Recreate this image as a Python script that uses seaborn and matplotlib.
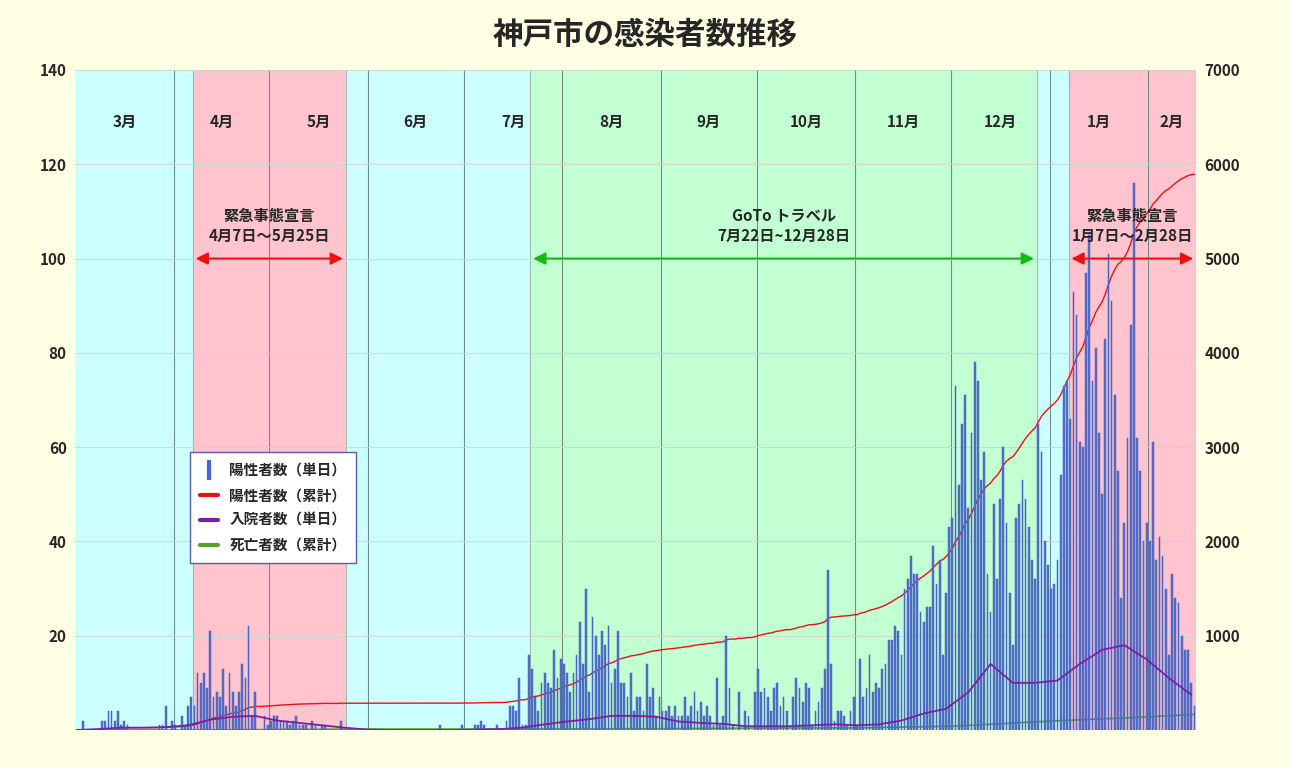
import numpy as np
import pandas as pd
import matplotlib
matplotlib.use("Agg")
import matplotlib.pyplot as plt
import seaborn as sns

# ---- data ----
mar = [0,0,2,0,0,0,0,0,2,2,4,4,2,4,1,2,1,0,0,0,0,0,0,0,0,0,1,1,5,0,2]
apr = [1,0,3,1,5,7,5,12,10,12,9,21,7,8,7,13,5,12,8,5,8,14,11,22,3,8,0,0,3,1]
may = [2,3,3,2,2,2,1,2,3,1,1,1,0,2,1,0,1,1,0,0,0,0,2,0,0,0,0,0,0,0,0]
jun = [0]*22 + [1] + [0]*6 + [1]
jul = [0,0,0,1,1,2,1,0,0,0,1,0,0,2,5,5,4,11,1,1,16,
       13,7,4,10,12,10,9,17,11,15]
aug = [14,12,8,12,16,23,14,30,8,24,20,16,21,18,22,10,13,21,10,10,7,12,4,7,7,4,14,7,9,3,7]
sep = [4,4,5,3,5,3,3,7,3,5,8,4,6,3,5,3,1,11,1,3,20,9,1,0,8,0,4,3,0,8]
octo = [13,8,9,7,4,9,10,5,7,4,0,7,11,9,6,10,9,1,4,6,9,13,34,14,2,4,4,3,1,4,7]
nov = [1,15,7,9,16,8,10,9,13,14,19,19,22,21,16,30,32,37,33,33,25,23,26,26,39,31,36,16,29,43]
dec = [45,73,52,65,71,47,63,78,74,53,59,33,25,48,32,49,60,44,29,18,45,48,53,49,43,36,32,65,59,40,35]
jan = [30,31,36,54,73,74,66,93,88,61,60,97,105,74,81,63,50,83,101,91,71,55,28,44,62,86,116,62,55,40,44]
feb = [40,61,36,41,37,30,16,33,28,27,20,17,17,10,5]
daily_pos = mar+apr+may+jun+jul+aug+sep+octo+nov+dec+jan+feb

# hospitalised, one reading per week starting 1 Mar
hosp_weekly = [0,0.2,0.5,0.5,0.6,1,2.2,2.8,3,2,1.5,1,0.5,0.1,0,0,0,0,0.1,0.2,0.5,1.2,
               1.8,2.3,3,3,2.8,1.8,1.5,1.3,0.8,0.8,0.8,1,1.2,1,1.2,2,3.5,4.5,8,14,10,10,
               10.5,14,17,18,15,11,7.5]
# cumulative deaths at month starts
death_dates = ["2020-03-01","2020-04-01","2020-05-01","2020-06-01","2020-07-01","2020-08-01",
               "2020-09-01","2020-10-01","2020-11-01","2020-12-01","2021-01-01","2021-02-01","2021-02-15"]
death_cum = [0,0,5,10,10,11,14,20,22,40,95,140,165]

month_labels = ["3月","4月","5月","6月","7月","8月","9月","10月","11月","12月","1月","2月"]

start = pd.Timestamp("2020-03-01")
n = len(daily_pos)
days = np.arange(n)
def idx(d):
    return (pd.Timestamp(d) - start).days

df = pd.DataFrame({"day": days, "pos": daily_pos})
df["cum"] = df["pos"].cumsum()
hosp_df = pd.DataFrame({"day": np.arange(len(hosp_weekly)) * 7, "hosp": hosp_weekly})
death_df = pd.DataFrame({"day": [idx(d) for d in death_dates], "death": death_cum})

# ---- figure ----
sns.set_theme(style="white")
plt.rcParams['font.family'] = ['Noto Sans CJK JP', 'DejaVu Sans']
bg = "#FFFFE3"
fig = plt.figure(figsize=(12.9, 7.68), dpi=100, facecolor=bg)
ax = fig.add_axes([75/1290, 38/768, 1121/1290, 660/768])
ax2 = ax.twinx()
ax.set_zorder(ax2.get_zorder() + 1); ax.patch.set_visible(False)
ax2.set_facecolor(bg)

lo, hi = -0.5, n - 0.5
cyan, pink, green = "#CCFFFF", "#FFC4CE", "#C2FFD2"
bands = [(lo, idx("2020-04-07")-0.5, cyan), (idx("2020-04-07")-0.5, idx("2020-05-25")-0.5, pink),
         (idx("2020-05-25")-0.5, idx("2020-07-22")-0.5, cyan), (idx("2020-07-22")-0.5, idx("2020-12-28")-0.5, green),
         (idx("2020-12-28")-0.5, idx("2021-01-07")-0.5, cyan), (idx("2021-01-07")-0.5, hi, pink)]
for a, b, c in bands:
    ax2.axvspan(a, b, color=c, zorder=0, lw=0)
month_starts = [idx(d) for d in pd.date_range("2020-03-01", "2021-02-01", freq="MS")]
for m in month_starts[1:]:
    ax2.axvline(m - 0.5, color="#7a8a8a", lw=0.8, zorder=1)
for d in ["2020-04-07","2020-05-25","2020-07-22","2020-12-28","2021-01-07"]:
    ax2.axvline(idx(d) - 0.5, color="#9aa8a8", lw=0.6, zorder=1)
for yv in range(20, 141, 20):
    ax2.axhline(yv*50, color="#c8d4d4", lw=0.6, zorder=1)

sns.barplot(data=df, x="day", y="pos", native_scale=True, color="#4466DD", width=0.55,
            edgecolor="#3355BB", linewidth=0.3, ax=ax, label="陽性者数（単日）", zorder=3)
sns.lineplot(data=hosp_df, x="day", y="hosp", color="#7A1FA2", lw=1.3, ax=ax,
             label="入院者数（単日）", zorder=4)
sns.lineplot(data=df, x="day", y="cum", color="#EE1111", lw=1.0, ax=ax2, zorder=2)
sns.lineplot(data=death_df, x="day", y="death", color="#55A030", lw=1.2, ax=ax2, zorder=2)

ax.set_xlim(lo, hi); ax2.set_xlim(lo, hi)
ax.set_ylim(0, 140); ax2.set_ylim(0, 7000)
ax.set_yticks(range(20, 141, 20)); ax2.set_yticks(range(1000, 7001, 1000))
ax.set_xticks([]); ax2.set_xticks([])
ax.set_xlabel(""); ax.set_ylabel(""); ax2.set_xlabel(""); ax2.set_ylabel("")
for a in (ax, ax2):
    a.tick_params(labelsize=11, length=0, pad=6)
    for lab in a.get_yticklabels():
        lab.set_fontweight("bold")
    for s in a.spines.values():
        s.set_visible(False)
ax.set_yticks(range(0, 141, 20)); ax.set_yticklabels([""] + [str(v) for v in range(20, 141, 20)], fontweight="bold")
ax.set_yticks(range(20, 141, 20))

# month labels
bounds = month_starts + [n]
for i, lab in enumerate(month_labels):
    mid = (bounds[i] + bounds[i+1]) / 2 - 0.5
    ax.text(mid, 129, lab, ha="center", va="center", fontsize=11, fontweight="bold")

def span_arrow(a, b, color, y=100):
    ax.annotate("", xy=(a, y), xytext=(b, y),
                arrowprops=dict(arrowstyle="<|-|>", color=color, lw=1.5, mutation_scale=18), zorder=6)
a1, b1 = idx("2020-04-07")-0.5, idx("2020-05-25")-0.5
span_arrow(a1, b1, "#EE1111")
ax.text((a1+b1)/2, 107, "緊急事態宣言\n4月7日～5月25日", ha="center", va="center", fontsize=11,
        fontweight="bold", linespacing=1.3)
a2, b2 = idx("2020-07-22")-0.5, idx("2020-12-28")-0.5
span_arrow(a2, b2, "#11BB11")
ax.text((a2+b2)/2, 107, "GoTo トラベル\n7月22日~12月28日", ha="center", va="center", fontsize=11,
        fontweight="bold", linespacing=1.3)
a3, b3 = idx("2021-01-07")-0.5, hi
span_arrow(a3, b3, "#EE1111")
ax.text((a3+b3)/2, 107, "緊急事態宣言\n1月7日～2月28日", ha="center", va="center", fontsize=11,
        fontweight="bold", linespacing=1.3)

# legend
from matplotlib.patches import Rectangle
from matplotlib.lines import Line2D
handles = [Line2D([], [], color="#4466DD", lw=0, marker="|", markersize=14, markeredgewidth=3),
           Line2D([], [], color="#EE1111", lw=3),
           Line2D([], [], color="#7A1FA2", lw=3),
           Line2D([], [], color="#55A030", lw=3)]
labels = ["陽性者数（単日）", "陽性者数（累計）", "入院者数（単日）", "死亡者数（累計）"]
leg = ax.legend(handles, labels, loc="upper left", bbox_to_anchor=(0.096, 0.432), frameon=True,
                fancybox=False, edgecolor="#6655AA", facecolor="white", framealpha=1,
                fontsize=10.5, handlelength=1.2, borderpad=0.7, labelspacing=0.6)
for t in leg.get_texts():
    t.set_fontweight("bold")

fig.text(0.5, 0.955, "神戸市の感染者数推移", ha="center", va="center", fontsize=22, fontweight="bold")
fig.savefig("out.png", dpi=100, facecolor=bg)
